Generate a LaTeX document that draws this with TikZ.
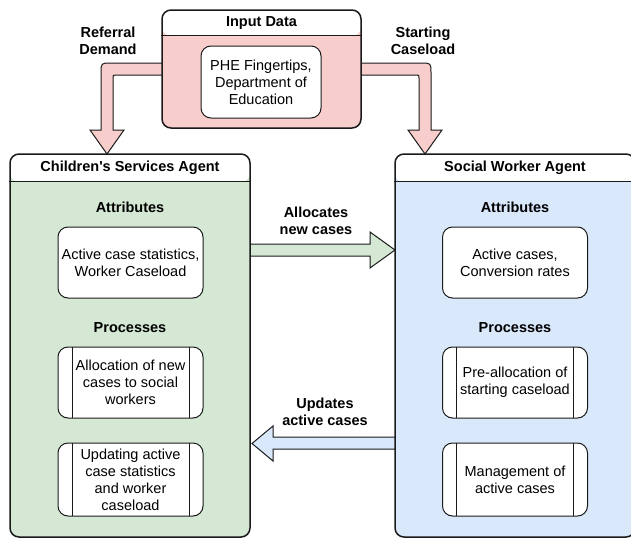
\documentclass[tikz,border=0pt]{standalone}
\usepackage{fontspec}
\setmainfont{Liberation Sans}
\usetikzlibrary{calc}
\definecolor{pinkF}{HTML}{F8CECC}
\definecolor{greenF}{HTML}{D5E8D4}
\definecolor{blueF}{HTML}{DAE8FC}
\definecolor{strokeC}{HTML}{1A1A1A}
\begin{document}
\begin{tikzpicture}[x=1pt,y=-1pt,
  font=\fontsize{14.5}{17}\selectfont,
  container/.style={draw=strokeC, line width=1.5pt, rounded corners=9pt, inner sep=0pt,
    path picture={\fill[white] (path picture bounding box.north west) rectangle ([yshift=-#1]path picture bounding box.north east);}},
  ibox/.style={draw=strokeC, line width=1pt, fill=white, rounded corners=10pt,
    minimum width=145pt, minimum height=71pt, align=center, inner sep=0pt},
  pbox/.style={ibox, path picture={
    \draw[line width=1pt, strokeC] ([xshift=14pt]path picture bounding box.north west) -- ([xshift=14pt]path picture bounding box.south west);
    \draw[line width=1pt, strokeC] ([xshift=-14pt]path picture bounding box.north east) -- ([xshift=-14pt]path picture bounding box.south east);}},
  ttl/.style={font=\fontsize{14.5}{17}\selectfont\bfseries, align=center, inner sep=0pt},
  lbl/.style={font=\fontsize{14.5}{17}\selectfont\bfseries, align=center, inner sep=0pt},
  barrow/.style={draw=strokeC, line width=1pt, line join=miter}
]
\useasboundingbox (0,0) rectangle (631,538);
\clip (0,0) rectangle (631,538);

% block arrows (drawn first, boxes cover their tails)
\draw[barrow, fill=pinkF] (170,63) -- (111,63) .. controls (101,63) .. (101,73) -- (101,130) -- (90,130) -- (107,154) -- (124,130) -- (113,130) -- (113,78) .. controls (113,75) .. (116,75) -- (170,75) -- cycle;
\draw[barrow, fill=pinkF] (353,63) -- (421,63) .. controls (431,63) .. (431,73) -- (431,130) -- (442,130) -- (425,154) -- (408,130) -- (419,130) -- (419,78) .. controls (419,75) .. (416,75) -- (353,75) -- cycle;
\draw[barrow, fill=greenF] (245,244) -- (370,244) -- (370,232) -- (395,250) -- (370,268) -- (370,256) -- (245,256) -- cycle;
\draw[barrow, fill=blueF] (400,437) -- (273,437) -- (273,426) -- (252,443.5) -- (273,461) -- (273,449) -- (400,449) -- cycle;

% input data
\node[container=26pt, fill=pinkF, minimum width=199pt, minimum height=118pt] (inp) at (261.5,69) {};
\draw[line width=1.5pt, strokeC] ([yshift=-26pt]inp.north west) -- ([yshift=-26pt]inp.north east);
\node[ttl] (inpT) at (261.5,23) {Input Data};
\node[ibox, minimum width=120pt, minimum height=72pt] (inpB) at (261,82) {PHE Fingertips,\\Department of\\Education};

% children's services agent
\node[container=28pt, fill=greenF, minimum width=240pt, minimum height=383pt] (csa) at (130,345.5) {};
\draw[line width=1.5pt, strokeC] ([yshift=-28pt]csa.north west) -- ([yshift=-28pt]csa.north east);
\node[ttl] (csaT) at (130,168) {Children\textquotesingle s Services Agent};
\node[ttl] (csaA) at (130,207) {Attributes};
\node[ibox] (csa1) at (130.5,262.5) {Active case statistics,\\Worker Caseload};
\node[ttl] (csaP) at (130,328) {Processes};
\node[pbox] (csa2) at (130.5,382.5) {Allocation of new\\cases to social\\workers};
\node[pbox, minimum height=73pt] (csa3) at (130.5,479.5) {Updating active\\case statistics\\and worker\\caseload};

% social worker agent
\node[container=28pt, fill=blueF, minimum width=240pt, minimum height=383pt] (swa) at (515,345.5) {};
\draw[line width=1.5pt, strokeC] ([yshift=-28pt]swa.north west) -- ([yshift=-28pt]swa.north east);
\node[ttl] (swaT) at (515,168) {Social Worker Agent};
\node[ttl] (swaA) at (515,207) {Attributes};
\node[ibox] (swa1) at (515,262.5) {Active cases,\\Conversion rates};
\node[ttl] (swaP) at (515,328) {Processes};
\node[pbox] (swa2) at (515,382.5) {Pre-allocation of\\starting caseload};
\node[pbox, minimum height=73pt] (swa3) at (515,479.5) {Management of\\active cases};

% arrow labels
\node[lbl] (l1) at (108,40.5) {Referral\\Demand};
\node[lbl] (l2) at (423,40.5) {Starting\\Caseload};
\node[lbl] (l3) at (316,221) {Allocates\\new cases};
\node[lbl] (l4) at (325,412) {Updates\\active cases};
\end{tikzpicture}
\end{document}
